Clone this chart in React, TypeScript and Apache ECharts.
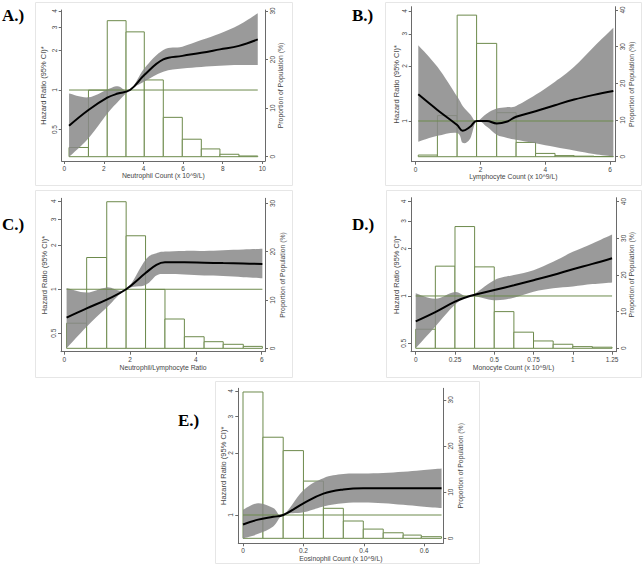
import React, { useEffect, useRef } from 'react';
import * as echarts from 'echarts';

// ---------- shared texts / ticks ----------
const panelLabels = ['A.)', 'B.)', 'C.)', 'D.)', 'E.)'];
const xTitles = [
  'Neutrophil Count (x 10^9/L)',
  'Lymphocyte Count (x 10^9/L)',
  'Neutrophil/Lymphocyte Ratio',
  'Monocyte Count (x 10^9/L)',
  'Eosinophil Count (x 10^9/L)',
];
const yLeftTitle = 'Hazard Ratio (95% CI)*';
const yRightTitle = 'Proportion of Population (%)';
const hrTicks = [0.5, 1, 2, 3, 4];

// ---------- Panel A: Neutrophil ----------
const xTicksA = [0, 2, 4, 6, 8, 10];
const pctTicksA = [0, 10, 20, 30];
const binEdgesA = [0.24, 1.22, 2.17, 3.12, 4.04, 5.0, 5.96, 6.92, 7.86, 8.82, 9.77];
const pctA = [1.9, 13.7, 28.0, 25.7, 15.8, 8.1, 3.6, 1.6, 0.5, 0.15];
const xA = [0.24, 1.22, 2.17, 2.7, 3.32, 4.04, 5.0, 5.96, 6.92, 7.86, 8.82, 9.77];
const hrA = [0.534, 0.704, 0.874, 0.94, 1.0, 1.3, 1.71, 1.82, 1.92, 2.04, 2.17, 2.43];
const loA = [0.31, 0.43, 0.66, 0.81, 1.0, 1.16, 1.38, 1.46, 1.5, 1.53, 1.55, 1.55];
const hiA = [0.94, 0.88, 1.01, 1.07, 1.0, 1.46, 2.02, 2.14, 2.4, 2.7, 3.13, 3.84];

// ---------- Panel B: Lymphocyte ----------
const xTicksB = [0, 2, 4, 6];
const pctTicksB = [0, 10, 20, 30, 40];
const binEdgesB = [0.08, 0.67, 1.28, 1.88, 2.5, 3.1, 3.7, 4.3, 4.89, 5.5, 6.1];
const pctB = [0.45, 11.2, 38.6, 30.9, 12.0, 3.9, 0.9, 0.3, 0.15, 0.05];
const xB = [0.08, 0.67, 1.28, 1.45, 1.68, 1.88, 2.2, 2.5, 2.8, 3.1, 3.7, 4.3, 4.89, 5.5, 6.1];
const hrB = [1.4, 1.15, 0.95, 0.885, 0.93, 1.0, 1.0, 0.97, 0.99, 1.055, 1.13, 1.22, 1.31, 1.39, 1.46];
const loB = [0.77, 0.83, 0.86, 0.76, 0.8, 1.0, 0.93, 0.84, 0.81, 0.79, 0.755, 0.72, 0.69, 0.66, 0.64];
const hiB = [2.6, 1.98, 1.36, 1.21, 1.09, 1.0, 1.1, 1.17, 1.19, 1.21, 1.39, 1.64, 1.98, 2.55, 3.24];

// ---------- Panel C: NLR ----------
const xTicksC = [0, 2, 4, 6];
const pctTicksC = [0, 10, 20, 30];
const binEdgesC = [0.07, 0.68, 1.29, 1.88, 2.47, 3.06, 3.65, 4.25, 4.83, 5.44, 6.02];
const pctC = [5.2, 18.8, 30.35, 23.3, 12.2, 6.07, 2.4, 1.37, 0.83, 0.4];
const xC = [0.07, 0.68, 1.29, 1.88, 2.47, 2.8, 3.06, 3.65, 4.25, 4.83, 5.44, 6.02];
const hrC = [0.64, 0.74, 0.85, 1.0, 1.29, 1.47, 1.53, 1.53, 1.52, 1.51, 1.5, 1.49];
const loC = [0.395, 0.555, 0.75, 1.0, 1.07, 1.24, 1.27, 1.26, 1.24, 1.23, 1.21, 1.19];
const hiC = [1.02, 0.95, 1.03, 1.0, 1.59, 1.76, 1.81, 1.83, 1.83, 1.85, 1.87, 1.89];

// ---------- Panel D: Monocyte ----------
const xTicksD = [0, 0.25, 0.5, 0.75, 1, 1.25];
const pctTicksD = [0, 10, 20, 30, 40];
const binEdgesD = [0, 0.125, 0.25, 0.375, 0.5, 0.625, 0.75, 0.875, 1.0, 1.125, 1.25];
const pctD = [5.2, 22.4, 33.2, 22.2, 10.0, 4.4, 2.0, 1.1, 0.45, 0.3];
const xD = [0, 0.125, 0.25, 0.345, 0.5, 0.625, 0.75, 0.875, 1.0, 1.125, 1.25];
const hrD = [0.69, 0.79, 0.92, 1.0, 1.09, 1.17, 1.26, 1.36, 1.48, 1.6, 1.74];
const loD = [0.466, 0.64, 0.88, 1.0, 0.94, 0.976, 1.065, 1.12, 1.15, 1.19, 1.22];
const hiD = [1.04, 0.96, 1.06, 1.0, 1.26, 1.36, 1.46, 1.65, 1.91, 2.16, 2.46];

// ---------- Panel E: Eosinophil ----------
const xTicksE = [0, 0.2, 0.4, 0.6];
const pctTicksE = [0, 10, 20, 30];
const binEdgesE = [0, 0.066, 0.133, 0.2, 0.266, 0.332, 0.398, 0.464, 0.53, 0.59, 0.657];
const pctE = [31.7, 21.9, 19.0, 12.4, 6.5, 3.75, 2.0, 1.2, 0.7, 0.35];
const xE = [0, 0.05, 0.1, 0.133, 0.2, 0.266, 0.332, 0.398, 0.464, 0.53, 0.59, 0.657];
const hrE = [0.9, 0.95, 0.98, 1.0, 1.14, 1.27, 1.33, 1.35, 1.35, 1.35, 1.35, 1.35];
const loE = [0.77, 0.81, 0.88, 1.0, 1.03, 1.1, 1.14, 1.15, 1.14, 1.12, 1.1, 1.08];
const hiE = [1.06, 1.14, 1.08, 1.0, 1.32, 1.51, 1.58, 1.59, 1.6, 1.62, 1.65, 1.68];

const panels = [
  { xTicks: xTicksA, pctTicks: pctTicksA, edges: binEdgesA, pct: pctA, xs: xA, hr: hrA, lo: loA, hi: hiA },
  { xTicks: xTicksB, pctTicks: pctTicksB, edges: binEdgesB, pct: pctB, xs: xB, hr: hrB, lo: loB, hi: hiB },
  { xTicks: xTicksC, pctTicks: pctTicksC, edges: binEdgesC, pct: pctC, xs: xC, hr: hrC, lo: loC, hi: hiC },
  { xTicks: xTicksD, pctTicks: pctTicksD, edges: binEdgesD, pct: pctD, xs: xD, hr: hrD, lo: loD, hi: hiD },
  { xTicks: xTicksE, pctTicks: pctTicksE, edges: binEdgesE, pct: pctE, xs: xE, hr: hrE, lo: loE, hi: hiE },
];

// ---------- layout (positions / axis extents) ----------
const layouts = [
  { grid: [61.7, 10, 203.3, 151], x: [-0.131, 10.136], hrR: [0.288, 4.07], pR: [-0.885, 30.2], gx: 11, gl: 14.5, gr: 11.5, box: [35, 2, 257, 183], lab: [2, 7] },
  { grid: [411.7, 6.7, 203.3, 155], x: [-0.123, 6.151], hrR: [0.599, 4.22], pR: [-1.36, 40.9], gx: 11.5, gl: 11.5, gr: 13, box: [385, 2, 256, 183], lab: [352, 7] },
  { grid: [61, 198.3, 204, 153.4], x: [-0.1, 6.1], hrR: [0.374, 4.19], pR: [-0.7, 31.06], gx: 12.5, gl: 12.5, gr: 14, box: [35, 190, 257, 187], lab: [2, 216] },
  { grid: [411, 197.7, 205, 154], x: [-0.03, 1.275], hrR: [0.442, 4.22], pR: [-0.93, 41.07], gx: 12.5, gl: 11, gr: 12, box: [386, 190, 255, 187], lab: [352, 216] },
  { grid: [238.3, 388.3, 205, 155], x: [-0.0156, 0.6628], hrR: [0.729, 4.12], pR: [-1.08, 32.5], gx: 12, gl: 11, gr: 14, box: [215, 381, 264, 182], lab: [178, 412] },
];

const GREEN = '#6d8a4c';
const AXIS = '#6a6a6a';
const TXT = '#444';
const BAND = '#888888';
const SANS = 'Liberation Sans, Arial, sans-serif';
const fmt = (v: number) => String(+(+v).toFixed(3));

// smooth (Catmull-Rom style) SVG path segment through pixel points
function smoothSeg(pts: number[][], t = 0.18): string {
  let d = '';
  for (let k = 0; k < pts.length - 1; k++) {
    const p0 = pts[Math.max(0, k - 1)];
    const p1 = pts[k];
    const p2 = pts[k + 1];
    const p3 = pts[Math.min(pts.length - 1, k + 2)];
    const c1 = [p1[0] + (p2[0] - p0[0]) * t, p1[1] + (p2[1] - p0[1]) * t];
    const c2 = [p2[0] - (p3[0] - p1[0]) * t, p2[1] - (p3[1] - p1[1]) * t];
    d += ` C${c1[0].toFixed(2)},${c1[1].toFixed(2)} ${c2[0].toFixed(2)},${c2[1].toFixed(2)} ${p2[0].toFixed(2)},${p2[1].toFixed(2)}`;
  }
  return d;
}

function buildOption() {
  const grid: any[] = [];
  const xAxis: any[] = [];
  const yAxis: any[] = [];
  const series: any[] = [];
  const graphic: any[] = [];

  panels.forEach((p, i) => {
    const L = layouts[i];
    grid.push({ left: L.grid[0], top: L.grid[1], width: L.grid[2], height: L.grid[3], containLabel: false, outerBoundsMode: 'none' });

    const nameStyle = { fontSize: 6.8, color: TXT, fontFamily: SANS };
    const leftNameStyle = { fontSize: 7.5, color: TXT, fontFamily: SANS };
    xAxis.push({
      type: 'value', gridIndex: i, min: L.x[0], max: L.x[1],
      axisLine: { show: true, onZero: false, lineStyle: { color: AXIS, width: 1 } },
      axisTick: { show: true, length: 3, customValues: p.xTicks, lineStyle: { color: AXIS } },
      axisLabel: { customValues: p.xTicks, fontSize: 6.5, color: TXT, margin: 4, fontFamily: SANS, formatter: fmt },
      splitLine: { show: false },
      name: xTitles[i], nameLocation: 'middle', nameGap: L.gx, nameTextStyle: nameStyle, nameMoveOverlap: false,
    });
    const hrT = hrTicks.filter((v) => v >= L.hrR[0] && v <= L.hrR[1]);
    yAxis.push({
      type: 'log', logBase: 2, gridIndex: i, position: 'left', min: L.hrR[0], max: L.hrR[1],
      axisLine: { show: true, onZero: false, lineStyle: { color: AXIS, width: 1 } },
      axisTick: { show: true, length: 3, customValues: hrT, lineStyle: { color: AXIS } },
      axisLabel: { customValues: hrT, fontSize: 6.5, color: TXT, margin: 4, rotate: 90, fontFamily: SANS, formatter: fmt },
      splitLine: { show: false }, minorTick: { show: false },
      name: yLeftTitle, nameLocation: 'middle', nameGap: L.gl, nameRotate: 90, nameTextStyle: leftNameStyle, nameMoveOverlap: false,
    });
    yAxis.push({
      type: 'value', gridIndex: i, position: 'right', min: L.pR[0], max: L.pR[1],
      axisLine: { show: true, onZero: false, lineStyle: { color: AXIS, width: 1 } },
      axisTick: { show: true, length: 3, customValues: p.pctTicks, lineStyle: { color: AXIS } },
      axisLabel: { customValues: p.pctTicks, fontSize: 6.5, color: TXT, margin: 4, rotate: 90, fontFamily: SANS, formatter: fmt },
      splitLine: { show: false },
      name: yRightTitle, nameLocation: 'middle', nameGap: L.gr, nameRotate: 90, nameTextStyle: nameStyle, nameMoveOverlap: false,
    });

    const yl = 2 * i;
    const yr = 2 * i + 1;

    // histogram bars (right axis)
    series.push({
      type: 'custom', xAxisIndex: i, yAxisIndex: yr, z: 1,
      data: p.pct.map((v, k) => [p.edges[k], p.edges[k + 1], v]),
      encode: { x: [0, 1], y: 2 },
      renderItem: (_params: any, api: any) => {
        const a = api.coord([api.value(0), 0]);
        const b = api.coord([api.value(1), api.value(2)]);
        return {
          type: 'rect',
          shape: { x: a[0], y: b[1], width: b[0] - a[0], height: a[1] - b[1] },
          style: { fill: '#ffffff', stroke: GREEN, lineWidth: 1 },
        };
      },
    });

    // confidence band (left log axis), one closed smooth path
    series.push({
      type: 'custom', xAxisIndex: i, yAxisIndex: yl, z: 2,
      data: p.xs.map((x, k) => [x, p.lo[k], p.hi[k]]),
      encode: { x: 0, y: [1, 2] },
      renderItem: (params: any, api: any) => {
        if (params.dataIndex !== 0) return null;
        const up = p.xs.map((x, k) => api.coord([x, p.hi[k]]));
        const dn = p.xs.map((x, k) => api.coord([x, p.lo[k]])).reverse();
        const d =
          `M${up[0][0].toFixed(2)},${up[0][1].toFixed(2)}` +
          smoothSeg(up) +
          ` L${dn[0][0].toFixed(2)},${dn[0][1].toFixed(2)}` +
          smoothSeg(dn) +
          ' Z';
        return {
          type: 'path',
          shape: { pathData: d },
          style: { fill: BAND, opacity: 0.85 },
        };
      },
    });

    // reference line HR = 1
    series.push({
      type: 'line', xAxisIndex: i, yAxisIndex: yl, z: 3,
      data: [[p.edges[0], 1], [p.edges[p.edges.length - 1], 1]],
      symbol: 'none', lineStyle: { color: GREEN, width: 1 }, silent: true,
    });

    // spline HR curve
    series.push({
      type: 'line', xAxisIndex: i, yAxisIndex: yl, z: 4,
      data: p.xs.map((x, k) => [x, p.hr[k]]),
      symbol: 'none', smooth: 0.4, lineStyle: { color: '#000', width: 2 }, silent: true,
    });

    graphic.push({
      type: 'rect', z: -10,
      shape: { x: L.box[0] + 0.5, y: L.box[1] + 0.5, width: L.box[2], height: L.box[3] },
      style: { fill: 'none', stroke: '#e6e6e6', lineWidth: 1 },
    });
    graphic.push({
      type: 'text', x: L.lab[0], y: L.lab[1],
      style: {
        text: panelLabels[i], fontSize: 17, fontWeight: 'bold',
        fontFamily: 'Liberation Serif, Times New Roman, serif', fill: '#000',
        verticalAlign: 'top', align: 'left',
      },
    });
  });

  return {
    animation: false,
    backgroundColor: '#ffffff',
    grid, xAxis, yAxis, series, graphic,
  };
}

export default function App() {
  const ref = useRef<HTMLDivElement>(null);
  useEffect(() => {
    document.body.style.margin = '0';
    const chart = echarts.init(ref.current!, undefined, { renderer: 'svg' });
    chart.setOption(buildOption() as any);
    return () => chart.dispose();
  }, []);
  return <div ref={ref} style={{ position: 'absolute', left: 0, top: 0, width: 643, height: 569 }} />;
}
